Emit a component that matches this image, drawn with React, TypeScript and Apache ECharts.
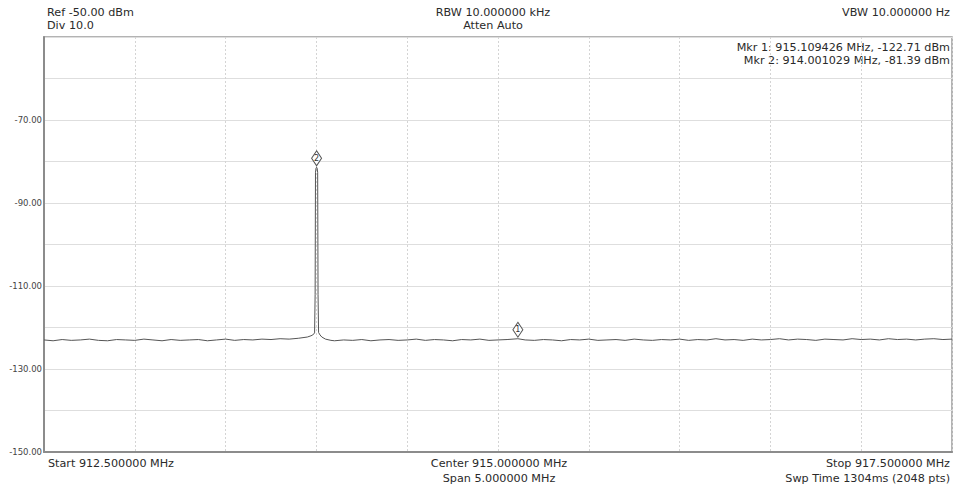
import React, { useEffect, useRef } from "react";
import * as echarts from "echarts";

// ---- Data ----
const startMHz = 912.5;
const stopMHz = 917.5;
const refDbm = -50;
const bottomDbm = -150;
const yTickLabels = ["-70.00", "-90.00", "-110.00", "-130.00", "-150.00"];

// Trace points [MHz, dBm]
const trace: [number, number][] = [
  [912.5, -123.0], [912.55, -123.2], [912.6, -122.9], [912.65, -123.1], [912.7, -123.0],
  [912.75, -122.8], [912.8, -123.1], [912.85, -123.2], [912.9, -122.9], [912.95, -123.0],
  [913.0, -123.1], [913.05, -122.8], [913.1, -123.0], [913.15, -123.2], [913.2, -122.9],
  [913.25, -123.1], [913.3, -123.0], [913.35, -122.9], [913.4, -123.2], [913.45, -123.0],
  [913.5, -122.8], [913.55, -123.1], [913.6, -122.9], [913.65, -123.0], [913.7, -122.8],
  [913.75, -122.9], [913.8, -122.7], [913.85, -122.8], [913.9, -122.6], [913.95, -122.3],
  [913.97, -122.0], [913.98, -121.8], [913.99, -121.3], [913.993, -112.0], [913.995, -82.6],
  [913.998, -81.6], [914.001029, -81.39], [914.004, -81.6], [914.007, -82.6], [914.009, -112.0],
  [914.012, -121.2], [914.02, -121.8],
  [914.03, -122.3], [914.05, -122.8], [914.08, -123.1], [914.1, -123.2], [914.15, -123.0],
  [914.2, -123.1], [914.25, -122.9], [914.3, -123.2], [914.35, -123.0], [914.4, -122.9],
  [914.45, -123.1], [914.5, -123.0], [914.55, -122.8], [914.6, -123.1], [914.65, -122.9],
  [914.7, -123.0], [914.75, -123.2], [914.8, -122.9], [914.85, -123.0], [914.9, -122.8],
  [914.95, -123.1], [915.0, -123.0], [915.05, -122.9], [915.109426, -122.71], [915.15, -123.0],
  [915.2, -123.1], [915.25, -122.9], [915.3, -123.0], [915.35, -123.2], [915.4, -122.9],
  [915.45, -123.0], [915.5, -122.8], [915.55, -123.1], [915.6, -123.0], [915.65, -122.9],
  [915.7, -123.1], [915.75, -122.8], [915.8, -123.0], [915.85, -123.1], [915.9, -122.9],
  [915.95, -123.0], [916.0, -122.8], [916.05, -123.1], [916.1, -122.9], [916.15, -123.0],
  [916.2, -122.7], [916.25, -123.0], [916.3, -122.9], [916.35, -123.1], [916.4, -122.8],
  [916.45, -123.0], [916.5, -122.9], [916.55, -122.7], [916.6, -123.0], [916.65, -122.8],
  [916.7, -122.9], [916.75, -123.1], [916.8, -122.8], [916.85, -122.9], [916.9, -123.0],
  [916.95, -122.7], [917.0, -122.9], [917.05, -122.8], [917.1, -123.0], [917.15, -122.7],
  [917.2, -122.9], [917.25, -122.8], [917.3, -123.0], [917.35, -122.8], [917.4, -122.7],
  [917.45, -122.9], [917.5, -122.8],
];

// Markers
const markerNames = ["1", "2"];
const markerFreqMHz = [915.109426, 914.001029];
const markerDbm = [-122.71, -81.39];

// Annotation texts
const headerLeft = ["Ref -50.00 dBm", "Div 10.0"];
const headerCenter = ["RBW 10.000000 kHz", "Atten Auto"];
const headerRight = "VBW 10.000000 Hz";
const markerTexts = [
  "Mkr 1: 915.109426 MHz, -122.71 dBm",
  "Mkr 2: 914.001029 MHz, -81.39 dBm",
];
const footerLeft = "Start 912.500000 MHz";
const footerCenter = ["Center 915.000000 MHz", "Span 5.000000 MHz"];
const footerRight = ["Stop 917.500000 MHz", "Swp Time 1304ms (2048 pts)"];

const FONT = "DejaVu Sans";
const TXT = "#2a2a2a";

function txt(text: string, x: number, y: number, align: string, size = 11.2) {
  return {
    type: "text",
    x,
    y,
    style: {
      text,
      fontFamily: FONT,
      fontSize: size,
      fill: TXT,
      textAlign: align,
      textVerticalAlign: "middle",
    },
    silent: true,
  };
}

export default function App() {
  const ref = useRef<HTMLDivElement>(null);
  useEffect(() => {
    if (!ref.current) return;
    const chart = echarts.init(ref.current, undefined, { renderer: "svg" });
    chart.setOption({
      animation: false,
      backgroundColor: "#ffffff",
      grid: {
        left: 44,
        top: 37,
        right: 11,
        bottom: 34,
        show: true,
        borderColor: "#9a9a9a",
        borderWidth: 1.5,
      },
      xAxis: {
        type: "value",
        min: startMHz,
        max: stopMHz,
        interval: 0.5,
        axisLabel: { show: false },
        axisTick: { show: false },
        axisLine: { show: true, onZero: false, lineStyle: { color: "#8c8c8c", width: 2 } },
        splitLine: { show: true, lineStyle: { color: "#d4d4d4", type: [2, 2], width: 1 } },
      },
      yAxis: {
        type: "value",
        min: bottomDbm,
        max: refDbm,
        interval: 10,
        axisTick: { show: false },
        axisLine: { show: true, onZero: false, lineStyle: { color: "#8c8c8c", width: 2 } },
        splitLine: { show: true, lineStyle: { color: "#dedede", width: 1 } },
        axisLabel: {
          margin: 2,
          fontFamily: FONT,
          fontSize: 8.5,
          color: "#444",
          formatter: (v: number) => {
            const s = v.toFixed(2);
            return yTickLabels.includes(s) ? s : "";
          },
        },
      },
      series: [
        {
          type: "line",
          data: trace,
          showSymbol: false,
          lineStyle: { color: "#555555", width: 1 },
          markPoint: {
            symbol: "diamond",
            symbolSize: [10, 15],
            symbolOffset: [0, -9],
            itemStyle: { color: "#ffffff", borderColor: "#555", borderWidth: 1 },
            label: {
              show: true,
              position: "inside",
              fontFamily: FONT,
              fontSize: 8,
              color: "#333",
              formatter: (p: any) => p.name,
            },
            data: markerNames.map((n, i) => ({
              name: n,
              coord: [markerFreqMHz[i], markerDbm[i]],
            })),
          },
        },
      ],
      graphic: [
        txt(headerLeft[0], 47, 12.5, "left"),
        txt(headerLeft[1], 47, 25, "left"),
        txt(headerCenter[0], 493, 12.5, "center"),
        txt(headerCenter[1], 493, 25, "center"),
        txt(headerRight, 950, 12.5, "right"),
        txt(markerTexts[0], 950, 47, "right"),
        txt(markerTexts[1], 950, 60, "right"),
        txt(footerLeft, 48, 463, "left"),
        txt(footerCenter[0], 499, 463, "center"),
        txt(footerCenter[1], 499, 478, "center"),
        txt(footerRight[0], 950, 463, "right"),
        txt(footerRight[1], 950, 478, "right"),
      ],
    });
    return () => chart.dispose();
  }, []);
  return (
    <div
      ref={ref}
      style={{ position: "fixed", left: 0, top: 0, width: 963, height: 486 }}
    />
  );
}
